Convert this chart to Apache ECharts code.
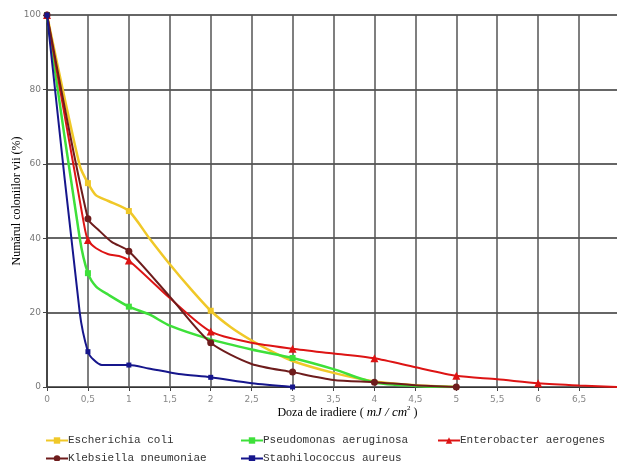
<!DOCTYPE html>
<html>
<head>
<meta charset="utf-8">
<script src="https://cdn.jsdelivr.net/npm/echarts@6/dist/echarts.min.js"></script>
<style>html,body{margin:0;padding:0;background:#fff}#c{width:617px;height:461px}</style>
</head>
<body>
<div id="c"></div>
<script>
// ---- data ----
const seriesNames = ['Escherichia coli', 'Pseudomonas aeruginosa', 'Enterobacter aerogenes', 'Klebsiella pneumoniae', 'Staphilococcus aureus'];
const xTicks = [0, 0.5, 1, 1.5, 2, 2.5, 3, 3.5, 4, 4.5, 5, 5.5, 6, 6.5, 7];
const yTicks = [0, 20, 40, 60, 80, 100];

const ecoliX = [0, 0.4, 0.5, 0.6, 0.75, 1, 1.25, 1.5, 1.75, 2, 2.25, 2.5, 2.75, 3, 3.5, 4, 4.5, 5];
const ecoliY = [100, 59.5, 54.8, 51.5, 50, 47.3, 40, 33, 26.5, 20.5, 16, 12.5, 9.5, 7, 3.8, 1.5, 0.5, 0];
const ecoliMarks = [0, 0.5, 1, 2];

const pseudoX = [0, 0.4, 0.5, 0.6, 0.75, 1, 1.25, 1.5, 2, 2.5, 3, 3.5, 4, 4.5, 5];
const pseudoY = [100, 40, 30.6, 27, 24.8, 21.6, 19.5, 16.5, 12.8, 10.1, 7.8, 4.8, 1.2, 0.3, 0];
const pseudoMarks = [0, 0.5, 1, 3];

const enteroX = [0, 0.45, 0.5, 0.6, 0.75, 0.88, 1, 1.5, 2, 2.5, 3, 3.5, 4, 4.5, 5, 5.5, 6, 6.5, 7];
const enteroY = [100, 44, 39.5, 37.3, 35.7, 35.2, 34, 23.9, 14.9, 11.9, 10.3, 9.0, 7.7, 5.3, 3.0, 2.1, 1.0, 0.4, 0];
const enteroMarks = [0, 0.5, 1, 2, 3, 4, 5, 6];

const klebX = [0, 0.5, 0.63, 0.79, 1, 1.5, 2, 2.5, 3, 3.5, 4, 4.5, 5];
const klebY = [100, 45.2, 42.2, 39, 36.5, 24.3, 11.9, 6.2, 4, 1.9, 1.3, 0.5, 0];
const klebMarks = [0, 0.5, 1, 2, 3, 4, 5];

const staphX = [0, 0.4, 0.5, 0.57, 0.67, 1, 1.24, 1.61, 2, 2.5, 3];
const staphY = [100, 20, 9.5, 7.3, 5.9, 5.9, 5.0, 3.5, 2.6, 1.0, 0];
const staphMarks = [0, 0.5, 1, 2, 3];

// ---- styles ----
const colors = ['#f0c828', '#3ee03a', '#dd1414', '#6e1c1c', '#16168c'];
const symbols = ['rect', 'rect', 'triangle', 'circle', 'rect'];
const symbolSizes = [6, 6, 8, 7, 5];
const widths = [2.5, 2.5, 2, 2, 2];

function build(xs, ys, marks) {
  return xs.map((x, i) => marks.indexOf(x) >= 0 ? { value: [x, ys[i]] } : { value: [x, ys[i]], symbol: 'none' });
}
const datasets = [
  build(ecoliX, ecoliY, ecoliMarks),
  build(pseudoX, pseudoY, pseudoMarks),
  build(enteroX, enteroY, enteroMarks),
  build(klebX, klebY, klebMarks),
  build(staphX, staphY, staphMarks)
];

const series = seriesNames.map((n, i) => ({
  name: n,
  type: 'line',
  data: datasets[i],
  smooth: 0.25,
  symbol: symbols[i],
  symbolSize: symbolSizes[i],
  showAllSymbol: true,
  lineStyle: { color: colors[i], width: widths[i] },
  itemStyle: { color: colors[i] },
  z: 2 + i,
  animation: false
}));

const legendPos = [[45, 435], [240, 435], [437, 435], [45, 453], [240, 453]];
const legends = seriesNames.map((n, i) => ({
  data: [n],
  left: legendPos[i][0],
  top: legendPos[i][1],
  itemWidth: 22,
  itemHeight: 8,
  itemGap: 2,
  padding: 0,
  textStyle: { fontFamily: 'Liberation Mono', fontSize: 11, color: '#333', padding: [0, 0, 0, -5] },
  selectedMode: false
}));

const chart = echarts.init(document.getElementById('c'), null, { renderer: 'canvas' });
chart.setOption({
  backgroundColor: '#fff',
  animation: false,
  grid: { left: 47, right: -3, top: 15, bottom: 74, containLabel: false, outerBoundsMode: 'none' },
  legend: legends,
  xAxis: {
    type: 'value',
    min: xTicks[0],
    max: xTicks[xTicks.length - 1],
    interval: 0.5,
    name: '{n|Doza de iradiere ( }{i|mJ / cm}{s|2}{n| )}',
    nameLocation: 'middle',
    nameGap: 18,
    nameMoveOverlap: false,
    nameTextStyle: {
      padding: [0, 0, 0, 28],
      rich: {
        n: { fontFamily: 'Liberation Serif', fontSize: 12, color: '#000' },
        i: { fontFamily: 'Liberation Serif', fontSize: 13, fontStyle: 'italic', color: '#000' },
        s: { fontFamily: 'Liberation Serif', fontSize: 7, color: '#000', verticalAlign: 'top', padding: [0, 0, 8, 0] }
      }
    },
    axisLine: { show: true, lineStyle: { color: '#333', width: 1 } },
    axisTick: { show: true, length: 4, lineStyle: { color: '#444' } },
    axisLabel: {
      margin: 8, color: '#888', fontFamily: 'DejaVu Sans', fontSize: 9,
      formatter: v => String(v).replace('.', ',')
    },
    splitLine: { show: true, lineStyle: { color: '#555', width: 1.5 } }
  },
  yAxis: {
    type: 'value',
    min: yTicks[0],
    max: yTicks[yTicks.length - 1],
    interval: 20,
    name: 'Numărul coloniilor vii (%)',
    nameLocation: 'middle',
    nameGap: 24,
    nameMoveOverlap: false,
    nameTextStyle: { fontFamily: 'Liberation Serif', fontSize: 12, color: '#000' },
    axisLine: { show: true, lineStyle: { color: '#333', width: 1.5 } },
    axisTick: { show: true, length: 4, lineStyle: { color: '#444' } },
    axisLabel: { margin: 6, color: '#777', fontFamily: 'DejaVu Sans', fontSize: 9 },
    splitLine: { show: true, lineStyle: { color: '#333', width: 1.5 } }
  },
  series: series
});
</script>
</body>
</html>
